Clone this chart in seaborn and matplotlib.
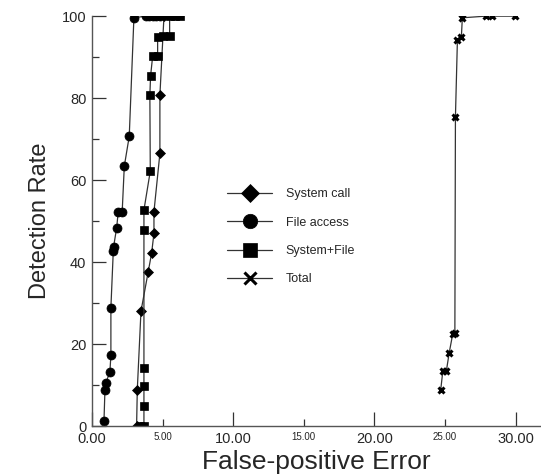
import matplotlib

matplotlib.use("Agg")

import matplotlib.pyplot as plt  # noqa: E402
import pandas as pd  # noqa: E402
import seaborn as sns  # noqa: E402
from matplotlib.ticker import MultipleLocator  # noqa: E402

# Values (false-positive %, detection %).
syscall_fp = [3.16, 3.21, 3.47, 3.98, 4.22, 4.39, 4.39, 4.81, 4.81, 5.10]
syscall_dr = [0.0, 8.9, 28.0, 37.6, 42.1, 47.0, 52.3, 66.5, 80.7, 100.0]

file_fp = [0.85, 0.92, 0.97, 1.27, 1.34, 1.34, 1.51, 1.53, 1.75, 1.86, 2.14,
           2.29, 2.64, 2.97, 3.80, 4.05, 4.30, 4.55, 4.80]
file_dr = [1.2, 8.9, 10.4, 13.2, 17.3, 28.9, 42.7, 43.7, 48.4, 52.3, 52.3,
           63.4, 70.7, 99.6, 100.0, 100.0, 100.0, 100.0, 100.0]

sysfile_fp = [3.40, 3.68, 3.68, 3.68, 3.68, 3.68, 3.68, 4.13, 4.10, 4.15,
              4.30, 4.65, 4.65, 5.00, 5.50, 5.50, 5.90, 6.20]
sysfile_dr = [0.0, 0.0, 4.9, 9.8, 14.2, 47.8, 52.7, 62.2, 80.7, 85.4,
              90.3, 90.3, 94.8, 95.2, 95.2, 100.0, 100.0, 100.0]

total_fp = [24.70, 24.85, 25.10, 25.30, 25.55, 25.70, 25.74, 25.88, 26.16,
            26.23, 27.90, 28.30, 29.94]
total_dr = [8.9, 13.5, 13.5, 17.9, 22.5, 22.6, 75.4, 94.1, 94.9,
            99.6, 100.0, 100.0, 100.0]

x_major = [0, 10, 20, 30]
x_minor = [5, 15, 25]

sns.set_style("ticks")
plt.rcParams["font.family"] = ["Liberation Sans", "DejaVu Sans"]

series = [
    ("System call", syscall_fp, syscall_dr, "D", 5.5, 0.5),
    ("File access", file_fp, file_dr, "o", 6.5, 0.5),
    ("System+File", sysfile_fp, sysfile_dr, "s", 6.0, 0.5),
    ("Total", total_fp, total_dr, "x", 5.0, 2.2),
]

fig = plt.figure(figsize=(5.41, 4.75), dpi=100)
ax = fig.add_axes([0.170, 0.103, 0.83, 0.863])

for name, xs, ys, mk, ms, mew in series:
    df = pd.DataFrame({"fp": xs, "dr": ys})
    sns.lineplot(data=df, x="fp", y="dr", sort=False, estimator=None, ax=ax,
                 color="#333333", linewidth=0.9, marker=mk, markersize=ms,
                 markerfacecolor="black", markeredgecolor="black",
                 markeredgewidth=mew, label=name)

ax.set_xlim(0, 31.8)
ax.set_ylim(0, 100)
ax.set_xticks(x_major, [f"{v:.2f}" for v in x_major])
ax.set_xticks(x_minor, [f"{v:.2f}" for v in x_minor], minor=True)
ax.yaxis.set_major_locator(MultipleLocator(20))
ax.yaxis.set_minor_locator(MultipleLocator(10))

ax.tick_params(which="both", direction="in", color="#333333", width=0.9)
ax.tick_params(which="major", length=10, labelsize=10.5, pad=4)
ax.tick_params(which="minor", length=5)
ax.tick_params(axis="x", which="minor", labelsize=7, pad=4)

for side in ("top", "right"):
    ax.spines[side].set_visible(False)
for side in ("left", "bottom"):
    ax.spines[side].set_color("#555555")
    ax.spines[side].set_linewidth(1.0)

ax.set_xlabel("False-positive Error", fontsize=19, labelpad=3.5)
ax.set_ylabel("Detection Rate", fontsize=17, labelpad=8)

leg = ax.legend(loc="upper left", bbox_to_anchor=(0.287, 0.595), frameon=False,
                fontsize=9, markerscale=1.6, handlelength=3.6,
                handletextpad=1.1, labelspacing=1.3, borderpad=0)

fig.savefig("out.png", dpi=100)
